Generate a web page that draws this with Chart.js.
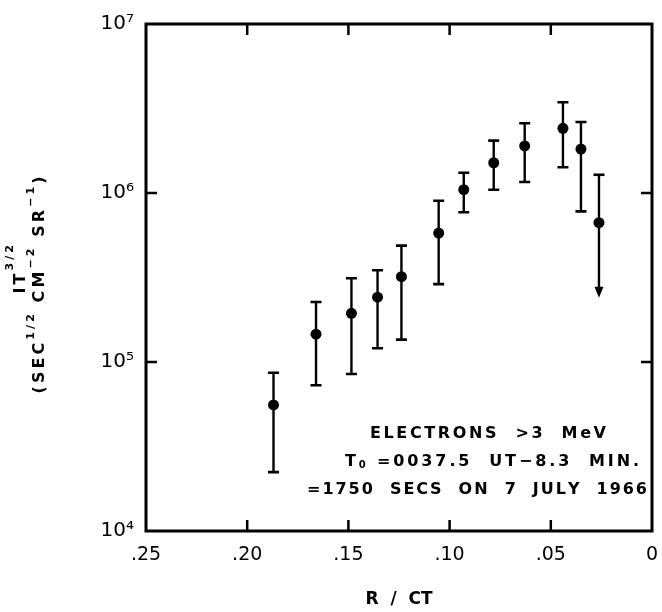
<!DOCTYPE html>
<html><head><meta charset="utf-8">
<script src="https://cdn.jsdelivr.net/npm/chart.js@4/dist/chart.umd.min.js"></script>
<style>html,body{margin:0;padding:0;background:#fff}#wrap{width:662px;height:612px;position:relative}</style>
</head><body><div id="wrap"><canvas id="c"></canvas></div>
<script>
// ---- data ----
const rOverCT   = [0.187, 0.166, 0.1485, 0.1356, 0.1238, 0.1054, 0.093, 0.0782, 0.0629, 0.044, 0.0351, 0.0262];
const intensity = [5.57e4, 1.46e5, 1.94e5, 2.42e5, 3.2e5, 5.79e5, 1.046e6, 1.51e6, 1.9e6, 2.415e6, 1.82e6, 6.67e5];
const errHigh   = [8.64e4, 2.265e5, 3.13e5, 3.49e5, 4.88e5, 9.0e5, 1.318e6, 2.04e6, 2.585e6, 3.44e6, 2.63e6, 1.282e6];
const errLow    = [2.23e4, 7.28e4, 8.49e4, 1.205e5, 1.356e5, 2.89e5, 7.69e5, 1.046e6, 1.161e6, 1.419e6, 7.79e5, 2.4e5];
const upperLimit = [false, false, false, false, false, false, false, false, false, false, false, true];

const xTickValues = [0.25, 0.20, 0.15, 0.10, 0.05, 0];
const xTickLabels = ['.25', '.20', '.15', '.10', '.05', '0'];
const yTickValues = [1e4, 1e5, 1e6, 1e7];
const yTickLabels = ['10\u2074', '10\u2075', '10\u2076', '10\u2077'];

const xTitle = 'R  /  CT';
const yTitleLine1 = [{t: 'IT'}, {t: '3/2', k: 'sup'}];
const yTitleLine2 = [{t: '(SEC'}, {t: '1/2', k: 'sup'}, {t: ' CM'}, {t: '\u22122', k: 'sup'}, {t: ' SR'}, {t: '\u22121', k: 'sup'}, {t: ')'}];
const noteLine1 = [{t: 'ELECTRONS  >3  MeV'}];
const noteLine2 = [{t: 'T'}, {t: '0', k: 'sub'}, {t: ' =0037.5  UT\u22128.3  MIN.'}];
const noteLine3 = [{t: '=1750  SECS  ON  7  JULY  1966'}];

// ---- helpers for spaced rich text ----
function measureRich(ctx, segs, fonts) {
  let w = 0, n = 0;
  for (const s of segs) {
    ctx.font = fonts[s.k || 'n'].font;
    for (const ch of s.t) { w += ctx.measureText(ch).width; n++; }
  }
  return {w, n};
}
function fitRich(ctx, segs, left, right, baseY, fonts) {
  const m = measureRich(ctx, segs, fonts);
  const sp = (right - left - m.w) / Math.max(1, m.n - 1);
  let x = left;
  ctx.textAlign = 'left';
  ctx.textBaseline = 'alphabetic';
  for (const s of segs) {
    const f = fonts[s.k || 'n'];
    ctx.font = f.font;
    for (const ch of s.t) {
      ctx.fillText(ch, x, baseY + f.dy);
      x += ctx.measureText(ch).width + sp;
    }
  }
}

const FAM = '"DejaVu Sans", sans-serif';

const decorPlugin = {
  id: 'decor',
  beforeDatasetsDraw(chart) {
    const {ctx, chartArea: a, scales: {x, y}} = chart;
    ctx.save();
    ctx.strokeStyle = '#000';
    ctx.fillStyle = '#000';
    // frame
    ctx.lineWidth = 3;
    ctx.strokeRect(a.left, a.top, a.right - a.left, a.bottom - a.top);
    // inward ticks
    ctx.lineWidth = 2.5;
    const TL = 11;
    ctx.beginPath();
    xTickValues.forEach(v => {
      const px = x.getPixelForValue(v);
      if (px <= a.left + 2 || px >= a.right - 2) return;
      ctx.moveTo(px, a.bottom); ctx.lineTo(px, a.bottom - TL);
      ctx.moveTo(px, a.top); ctx.lineTo(px, a.top + TL);
    });
    yTickValues.forEach(v => {
      const py = y.getPixelForValue(v);
      if (py <= a.top + 2 || py >= a.bottom - 2) return;
      ctx.moveTo(a.left, py); ctx.lineTo(a.left + TL, py);
      ctx.moveTo(a.right, py); ctx.lineTo(a.right - TL, py);
    });
    ctx.stroke();
    // error bars
    const CAP = 5.5;
    rOverCT.forEach((xv, i) => {
      const px = x.getPixelForValue(xv);
      const pt = y.getPixelForValue(errHigh[i]);
      const pb = y.getPixelForValue(errLow[i]);
      ctx.lineWidth = 2.4;
      ctx.beginPath();
      ctx.moveTo(px, pt);
      ctx.lineTo(px, upperLimit[i] ? pb - 10 : pb);
      ctx.stroke();
      ctx.lineWidth = 2.6;
      ctx.beginPath();
      ctx.moveTo(px - CAP, pt); ctx.lineTo(px + CAP, pt);
      if (!upperLimit[i]) { ctx.moveTo(px - CAP, pb); ctx.lineTo(px + CAP, pb); }
      ctx.stroke();
      if (upperLimit[i]) {
        ctx.beginPath();
        ctx.moveTo(px - 4.5, pb - 11);
        ctx.lineTo(px + 4.5, pb - 11);
        ctx.lineTo(px, pb);
        ctx.closePath();
        ctx.fill();
      }
    });
    ctx.restore();
  },
  afterDraw(chart) {
    const {ctx} = chart;
    ctx.save();
    ctx.fillStyle = '#000';
    // y axis title, rotated
    const tf1 = {n: {font: 'bold 16px ' + FAM, dy: 0}, sup: {font: 'bold 11px ' + FAM, dy: -12}};
    const tf2 = {n: {font: 'bold 16px ' + FAM, dy: 0}, sup: {font: 'bold 11px ' + FAM, dy: -10}};
    ctx.save();
    ctx.translate(25, 0); ctx.rotate(-Math.PI / 2);
    fitRich(ctx, yTitleLine1, -293.5, -245, 0, tf1);
    ctx.restore();
    ctx.save();
    ctx.translate(43.5, 0); ctx.rotate(-Math.PI / 2);
    fitRich(ctx, yTitleLine2, -393.5, -176.5, 0, tf2);
    ctx.restore();
    // annotation
    const nf = {n: {font: 'bold 16px ' + FAM, dy: 0}, sub: {font: 'bold 10px ' + FAM, dy: 2}};
    fitRich(ctx, noteLine1, 370, 606, 438, nf);
    fitRich(ctx, noteLine2, 345, 639, 466, nf);
    fitRich(ctx, noteLine3, 307, 647, 494, nf);
    ctx.restore();
  }
};

new Chart(document.getElementById('c'), {
  type: 'scatter',
  data: {
    datasets: [{
      data: rOverCT.map((xv, i) => ({x: xv, y: intensity[i]})),
      backgroundColor: '#000',
      borderColor: '#000',
      pointRadius: 5.5,
      pointHoverRadius: 5.5,
      borderWidth: 0
    }]
  },
  options: {
    responsive: true,
    maintainAspectRatio: false,
    animation: false,
    events: [],
    layout: {padding: {top: 24, right: 10, left: 0, bottom: 0}},
    plugins: {legend: {display: false}, tooltip: {enabled: false}},
    scales: {
      x: {
        type: 'linear',
        reverse: true,
        min: 0, max: 0.25,
        afterBuildTicks: s => { s.ticks = xTickValues.map(v => ({value: v})); },
        afterFit: s => { s.height = 81; s.paddingLeft = 0; s.paddingRight = 0; },
        grid: {display: false, drawTicks: false},
        border: {display: false},
        ticks: {
          autoSkip: false, maxRotation: 0, padding: 13, color: '#000',
          font: {family: FAM, size: 19},
          callback: (v) => { const i = xTickValues.findIndex(t => Math.abs(t - v) < 1e-9); return i >= 0 ? xTickLabels[i] : ''; }
        },
        title: {display: true, text: xTitle, color: '#000', font: {family: FAM, size: 17, weight: 'bold'}, padding: {top: 0, bottom: 2}}
      },
      y: {
        type: 'logarithmic',
        min: 1e4, max: 1e7,
        afterBuildTicks: s => { s.ticks = yTickValues.map(v => ({value: v})); },
        afterFit: s => { s.width = 146; s.paddingTop = 0; s.paddingBottom = 0; },
        grid: {display: false, drawTicks: false},
        border: {display: false},
        ticks: {
          autoSkip: false, padding: 12, color: '#000',
          font: {family: FAM, size: 20},
          callback: (v) => { const i = yTickValues.findIndex(t => Math.abs(t - v) / t < 1e-6); return i >= 0 ? yTickLabels[i] : ''; }
        }
      }
    }
  },
  plugins: [decorPlugin]
});
</script>
</body></html>
